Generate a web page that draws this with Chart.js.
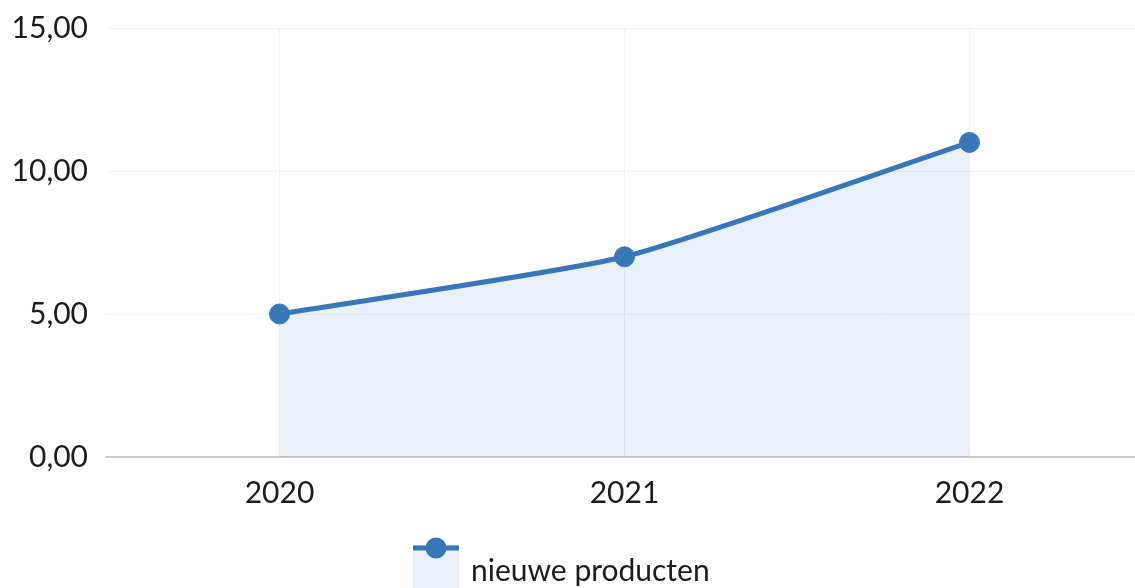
<!DOCTYPE html>
<html>
<head>
<meta charset="utf-8">
<title>nieuwe producten</title>
<script src="https://cdn.jsdelivr.net/npm/chart.js@4"></script>
<style>
    html, body { margin: 0; padding: 0; background: #fff; overflow: hidden; }
    #wrap { width: 1135px; height: 588px; overflow: hidden; }
    #chart { display: block; }
</style>
</head>
<body>
<div id="wrap"><canvas id="chart" width="1153" height="588"></canvas></div>
<script>
const years = ['2020', '2021', '2022'];
const newProducts = [5, 7, 11];
const seriesLabel = 'nieuwe producten';
const yTicks = [0, 5, 10, 15];

const LINE = 'rgb(55, 119, 184)';
const FILL = 'rgba(55, 119, 184, 0.11)';
const TEXT = '#1c1c1c';
const FONT = 'Lato, "Open Sans", sans-serif';

// legend drawn by hand: filled box with the line + point on top
const lineLegend = {
    id: 'lineLegend',
    afterDraw(chart) {
        const ctx = chart.ctx;
        const ds = chart.data.datasets[0];
        const x = 413, y = 545, w = 46, h = 43;
        ctx.save();
        ctx.fillStyle = ds.backgroundColor;
        ctx.fillRect(x, y, w, h);
        ctx.strokeStyle = ds.borderColor;
        ctx.lineWidth = 5;
        ctx.beginPath();
        ctx.moveTo(x, y + 3);
        ctx.lineTo(x + w, y + 3);
        ctx.stroke();
        ctx.fillStyle = ds.pointBackgroundColor;
        ctx.beginPath();
        ctx.arc(x + w / 2, y + 3, 10.5, 0, Math.PI * 2);
        ctx.fill();
        ctx.fillStyle = TEXT;
        ctx.font = '30px ' + FONT;
        ctx.textBaseline = 'alphabetic';
        ctx.fillText(ds.label, 471, 581);
        ctx.restore();
    }
};

new Chart(document.getElementById('chart'), {
    type: 'line',
    data: {
        labels: years,
        datasets: [{
            label: seriesLabel,
            data: newProducts,
            borderColor: LINE,
            backgroundColor: FILL,
            pointBackgroundColor: LINE,
            pointBorderColor: LINE,
            pointRadius: 10,
            pointBorderWidth: 1,
            borderWidth: 5,
            tension: 0.18,
            fill: 'origin'
        }]
    },
    options: {
        responsive: false,
        animation: false,
        layout: { padding: { top: 28, left: 0, right: 0, bottom: 59 } },
        plugins: {
            legend: { display: false },
            tooltip: { enabled: false }
        },
        scales: {
            x: {
                offset: true,
                grid: { color: '#f1f1f1', lineWidth: 1, drawTicks: false },
                border: { color: '#cccccc', width: 2 },
                ticks: { color: TEXT, font: { family: FONT, size: 30 }, padding: 18 }
            },
            y: {
                min: 0,
                max: 15,
                afterBuildTicks: scale => { scale.ticks = yTicks.map(v => ({ value: v })); },
                afterFit: scale => {
                    scale.width = 107;
                    scale.paddingTop = 0;
                    scale.paddingBottom = 0;
                },
                grid: { color: '#f3f3f3', lineWidth: 1, drawTicks: false },
                border: { display: false },
                ticks: {
                    color: TEXT,
                    font: { family: FONT, size: 30 },
                    padding: 19,
                    callback: v => v.toFixed(2).replace('.', ',')
                }
            }
        }
    },
    plugins: [lineLegend]
});
</script>
</body>
</html>
